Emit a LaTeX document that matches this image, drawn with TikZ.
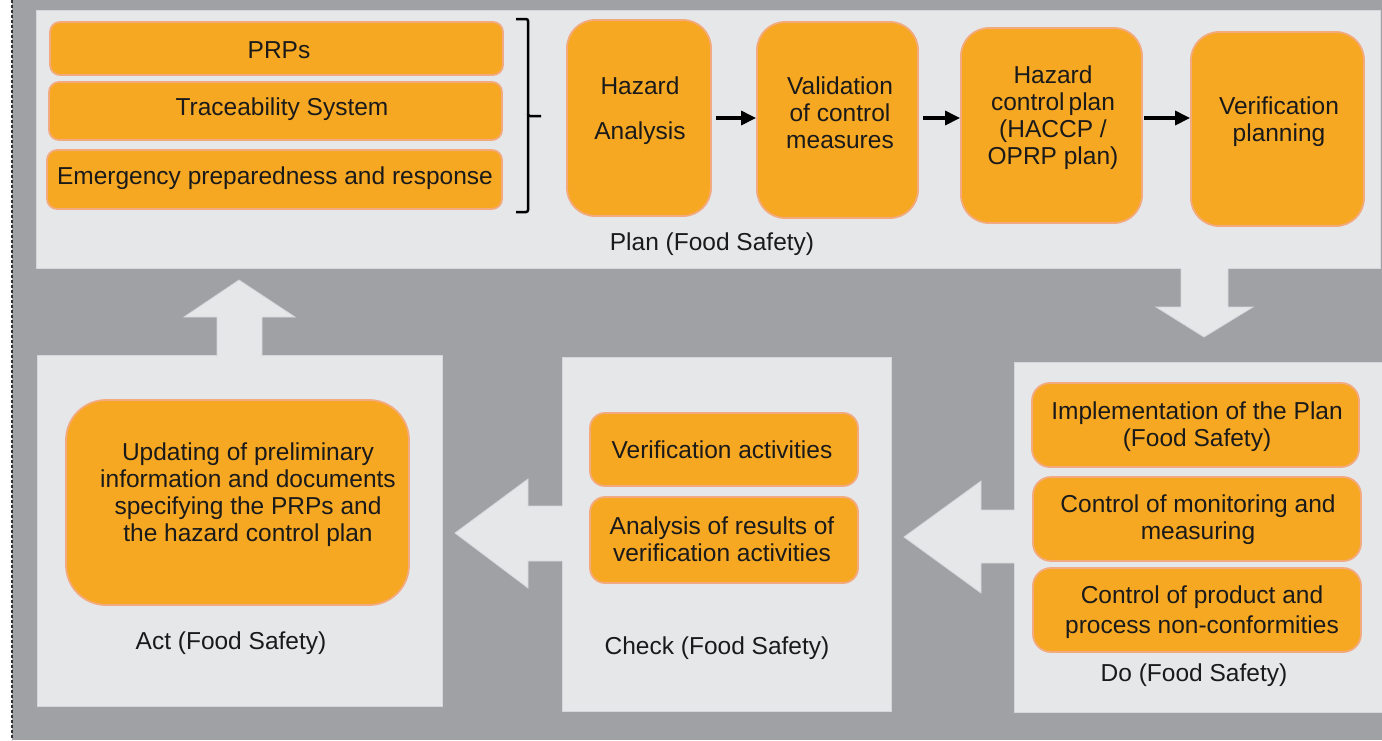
\documentclass[tikz,border=0pt]{standalone}
\usepackage{fontspec}
\setmainfont{Liberation Sans}
\usetikzlibrary{arrows.meta}
\definecolor{bggray}{HTML}{A0A1A5}
\definecolor{panelc}{HTML}{E6E7E9}
\definecolor{paneledge}{HTML}{D6D7DA}
\definecolor{orangef}{HTML}{F7A823}
\definecolor{oedge}{HTML}{F3AA7E}
\definecolor{txtc}{HTML}{1A1A1A}
\begin{document}
\begin{tikzpicture}[x=1pt,y=-1pt,
 panel/.style={fill=panelc, draw=paneledge, line width=1pt, inner sep=0pt, rectangle},
 obox/.style={fill=orangef, draw=oedge, line width=1.8pt, inner sep=0pt, rectangle},
 txt/.style={text=txtc, font=\fontsize{24.5}{27}\selectfont, align=center, inner sep=0pt, yshift=-2.5pt},
 arrowfill/.style={fill=panelc},
 arrowedge/.style={draw=paneledge, line width=0.8pt},
 flow/.style={line width=3.2pt, -{Triangle[length=15pt,width=14pt]}},
 bracket/.style={line width=2.5pt, rounded corners=2pt}]
\useasboundingbox (0,0) rectangle (1382,740);
% background
\fill[white] (0,0) rectangle (1382,740);
\fill[bggray] (12,0) rectangle (1382,740);
\draw[dash pattern=on 3pt off 2pt, line width=1.2pt, black!80] (12,0) -- (12,740);

% panels
\node[panel, minimum width=1344pt, minimum height=258pt] (plan) at (708,139) {};
\node[panel, minimum width=405pt, minimum height=351pt] (act) at (239.5,530.5) {};
\node[panel, minimum width=329pt, minimum height=354pt] (check) at (726.5,534) {};
\node[panel, minimum width=370pt, minimum height=350pt] (do) at (1199,537) {};

% block arrows
\fill[arrowfill] (217,358) -- (217,317) -- (184,317) -- (239,280) -- (295,317) -- (262,317) -- (262,358) -- cycle;
\draw[arrowedge] (217,357) -- (217,317) -- (184,317) -- (239,280) -- (295,317) -- (262,317) -- (262,357);
\fill[arrowfill] (1181,266) -- (1181,307) -- (1156,307) -- (1204,337) -- (1253,307) -- (1228,307) -- (1228,266) -- cycle;
\draw[arrowedge] (1181,269) -- (1181,307) -- (1156,307) -- (1204,337) -- (1253,307) -- (1228,307) -- (1228,269);
\fill[arrowfill] (1017,510) -- (981,510) -- (981,481) -- (904,537) -- (981,593) -- (981,563) -- (1017,563) -- cycle;
\draw[arrowedge] (1014,510) -- (981,510) -- (981,481) -- (904,537) -- (981,593) -- (981,563) -- (1014,563);
\fill[arrowfill] (565,506) -- (528,506) -- (528,479) -- (455,533) -- (528,588) -- (528,561) -- (565,561) -- cycle;
\draw[arrowedge] (562,506) -- (528,506) -- (528,479) -- (455,533) -- (528,588) -- (528,561) -- (562,561);

% Plan boxes
\node[obox, rounded corners=10pt, minimum width=453pt, minimum height=53pt] (prp) at (276.5,48.5) {};
\node[obox, rounded corners=10pt, minimum width=453pt, minimum height=58pt] (trace) at (275.5,111) {};
\node[obox, rounded corners=10pt, minimum width=455pt, minimum height=59pt] (emerg) at (274.5,179.5) {};
\node[txt] (prpT) at (279,48) {PRPs};
\node[txt] (traceT) at (282,107) {Traceability System};
\node[txt] (emergT) at (275,176) {Emergency preparedness and response};

\draw[bracket] (516,19) -- (528,19) -- (528,116) -- (541,116);
\draw[bracket] (528,114) -- (528,212) -- (516,212);

\node[obox, rounded corners=28pt, minimum width=144pt, minimum height=196pt] (ha) at (639,118) {};
\node[obox, rounded corners=28pt, minimum width=161pt, minimum height=196pt] (val) at (837.5,120) {};
\node[obox, rounded corners=28pt, minimum width=181pt, minimum height=195pt] (hcp) at (1051.5,125.5) {};
\node[obox, rounded corners=28pt, minimum width=173pt, minimum height=194pt] (vp) at (1277.5,129) {};
\node[txt] (haT) at (640,108.5) {Hazard\\[18pt]Analysis};
\node[txt] (valT) at (840,110) {Validation\\of control\\measures};
\node[txt] (hcpT) at (1053,115) {Hazard\\control\,plan\\(HACCP /\\OPRP plan)};
\node[txt] (vpT) at (1279,119.5) {Verification\\planning};

\draw[flow, shorten <=4pt] (ha.east) -- (val.west |- ha.east);
\draw[flow, shorten <=4pt] (val.east |- ha.east) -- (hcp.west |- ha.east);
\draw[flow, shorten <=1pt] (hcp.east |- ha.east) -- (vp.west |- ha.east);

\node[txt] (planT) at (712,242) {Plan (Food Safety)};

% Act
\node[obox, rounded corners=40pt, minimum width=343pt, minimum height=205pt] (upd) at (237.5,502.5) {};
\node[txt] (updT) at (248,492) {Updating of preliminary\\information and documents\\specifying the PRPs and\\the hazard control plan};
\node[txt] (actT) at (231,641) {Act (Food Safety)};

% Check
\node[obox, rounded corners=15pt, minimum width=268pt, minimum height=73pt] (va) at (724,449.5) {};
\node[obox, rounded corners=15pt, minimum width=268pt, minimum height=86pt] (ar) at (724,540) {};
\node[txt] (vaT) at (722,447) {Verification activities};
\node[txt] (arT) at (722,537) {Analysis of results of\\verification activities};
\node[txt] (checkT) at (717,646) {Check (Food Safety)};

% Do
\node[obox, rounded corners=18pt, minimum width=327pt, minimum height=84pt] (impl) at (1195.5,425) {};
\node[obox, rounded corners=18pt, minimum width=328pt, minimum height=84pt] (mon) at (1197,519) {};
\node[obox, rounded corners=18pt, minimum width=328pt, minimum height=84pt] (prod) at (1197,610) {};
\node[txt] (implT) at (1197,424) {Implementation of the Plan\\(Food Safety)};
\node[txt] (monT) at (1198,517) {Control of monitoring and\\measuring};
\node[txt, font=\fontsize{24.5}{30}\selectfont] (prodT) at (1202,610) {Control of product and\\process non-conformities};
\node[txt] (doT) at (1194,673) {Do (Food Safety)};
\end{tikzpicture}
\end{document}
